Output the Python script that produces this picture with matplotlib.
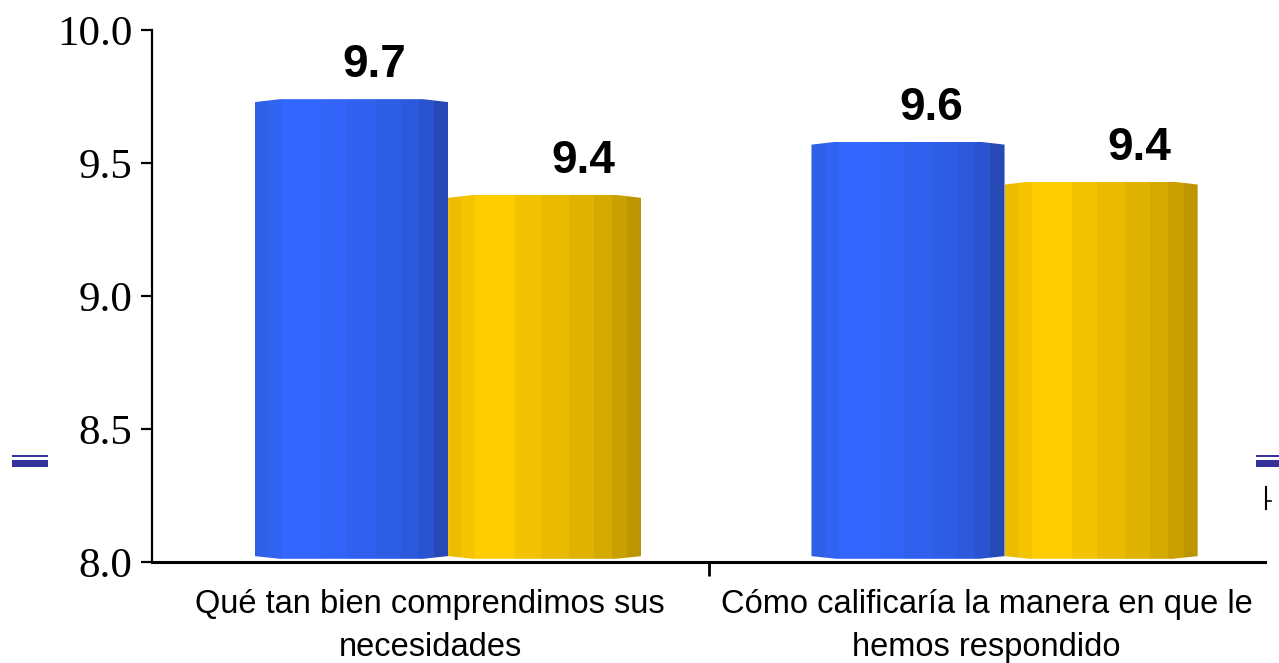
import numpy as np
import matplotlib
matplotlib.use("Agg")
import matplotlib.pyplot as plt
from matplotlib.patches import Rectangle, Polygon
from matplotlib.lines import Line2D

# --- Data ---
categories = ["Qué tan bien comprendimos sus\nnecesidades",
              "Cómo calificaría la manera en que le\nhemos respondido"]
blue_values = [9.74, 9.58]
gold_values = [9.38, 9.43]
y_ticks = [8.0, 8.5, 9.0, 9.5, 10.0]

# --- Style ---
Y_MIN, Y_MAX = 8.0, 10.0
BAR_LEFT = 0.185      # offset of first bar inside each category slot
BAR_WIDTH = 0.347
# strip edges across one bar (fraction of bar width) and shades left->right
STRIP_EDGES = np.array([0, 13, 27, 67, 92, 120, 145, 163, 178, 192]) / 192
BLUE_SHADES = ['#2f5fe6', '#3163f1', '#3366ff', '#3264f7', '#3061ee',
               '#2e5de5', '#2c58db', '#2a53cf', '#2649b6']
GOLD_SHADES = ['#ecbc00', '#f4c400', '#ffcc00', '#f3c200', '#e9ba00',
               '#e0b300', '#d5aa00', '#caa000', '#bd9500']

plt.rcParams['font.family'] = 'Liberation Sans'

fig = plt.figure(figsize=(12.79, 6.63), dpi=100)
ax = fig.add_axes([152 / 1279, 1 - 562 / 663, 1113 / 1279, 532 / 663])


def draw_cylinder(x0, value, shades):
    """Draw one bar as vertical strips clipped to a chamfered outline."""
    x1 = x0 + BAR_WIDTH
    c = 0.13 * BAR_WIDTH
    outline = Polygon([(x0, Y_MIN + 0.022), (x0 + c, Y_MIN + 0.012),
                       (x1 - c, Y_MIN + 0.012), (x1, Y_MIN + 0.022),
                       (x1, value - 0.011), (x1 - c, value),
                       (x0 + c, value), (x0, value - 0.011)],
                      closed=True, transform=ax.transData, fill=False, lw=0)
    ax.add_patch(outline)
    bars = ax.bar(x0 + STRIP_EDGES[:-1] * BAR_WIDTH, value - Y_MIN,
                  width=np.diff(STRIP_EDGES) * BAR_WIDTH, bottom=Y_MIN,
                  align='edge', color=shades, linewidth=0, zorder=2)
    for b in bars:
        b.set_clip_path(outline)


for k in range(len(categories)):
    xb = k + BAR_LEFT
    xg = xb + BAR_WIDTH
    draw_cylinder(xb, blue_values[k], BLUE_SHADES)
    draw_cylinder(xg, gold_values[k], GOLD_SHADES)
    ax.text(xb + BAR_WIDTH * 0.62, blue_values[k] + 0.045, f"{blue_values[k]:.1f}",
            ha='center', va='bottom', fontsize=33, fontweight='bold',
            color='black', zorder=3)
    ax.text(xg + BAR_WIDTH * 0.7, gold_values[k] + 0.045, f"{gold_values[k]:.1f}",
            ha='center', va='bottom', fontsize=33, fontweight='bold',
            color='black', zorder=3)

ax.set_xlim(0, len(categories))
ax.set_ylim(Y_MIN, Y_MAX)

# axes frame: left and bottom only
for side in ('top', 'right'):
    ax.spines[side].set_visible(False)
ax.spines['left'].set_linewidth(1.6)
ax.spines['bottom'].set_linewidth(2.2)

ax.set_yticks(y_ticks)
ax.set_yticklabels([f"{t:.1f}" for t in y_ticks],
                   fontfamily='Liberation Serif', fontsize=31)
ax.tick_params(axis='y', direction='out', length=8, width=1.6, pad=6)

# category labels centred in each slot, separator tick between slots
ax.set_xticks([1])
ax.set_xticklabels([''])
ax.tick_params(axis='x', direction='out', length=10, width=2)
for k, label in enumerate(categories):
    ax.text(k + 0.5, Y_MIN - 0.1, label, ha='center', va='top',
            fontsize=23.5, linespacing=1.5)

# leftover legend swatches at the page edges
for x0, w in ((12, 36), (1256, 23)):
    fig.add_artist(Rectangle((x0 / 1279, 1 - 457 / 663), w / 1279, 2 / 663,
                             transform=fig.transFigure, color='#333399', lw=0))
    fig.add_artist(Rectangle((x0 / 1279, 1 - 467 / 663), w / 1279, 7 / 663,
                             transform=fig.transFigure, color='#333399', lw=0))
fig.add_artist(Line2D([1266 / 1279, 1266 / 1279], [1 - 487 / 663, 1 - 509 / 663],
                      transform=fig.transFigure, color='black', lw=1.5))
fig.add_artist(Line2D([1266 / 1279, 1271 / 1279], [1 - 501 / 663, 1 - 501 / 663],
                      transform=fig.transFigure, color='black', lw=1.2))

fig.savefig("out.png", dpi=100, facecolor='white')
